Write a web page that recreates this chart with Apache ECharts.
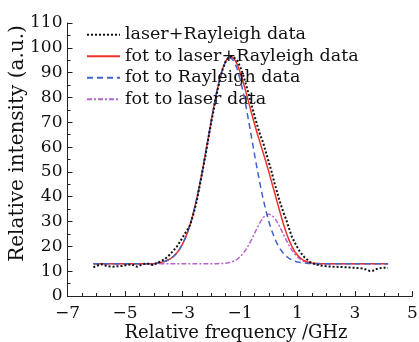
<!DOCTYPE html>
<html><head><meta charset="utf-8">
<script src="https://cdn.jsdelivr.net/npm/echarts@6/dist/echarts.min.js"></script>
<style>html,body{margin:0;padding:0;background:#fff}#c{width:419px;height:342px}</style>
</head><body><div id="c"></div>
<script>
const fitFreq = [-6.1,-5,-4,-3.7,
 -3.6,-3.5,-3.4,-3.3,-3.2,-3.1,-3.0,-2.9,-2.8,-2.7,
 -2.6,-2.5,-2.4,-2.3,-2.2,-2.1,-2.0,-1.9,-1.8,-1.7,
 -1.6,-1.5,-1.4,-1.3,-1.2,-1.1,-1.0,-0.9,-0.8,-0.7,
 -0.6,-0.5,-0.4,-0.3,-0.2,-0.1,0,0.1,0.2,0.3,
 0.4,0.5,0.6,0.7,0.8,0.9,1.0,1.1,1.2,1.3,
 1.4,1.5,1.6,1.8,2.5,4.15];
const rayleighFit = [13,13,13,13.7,
 14.0,14.5,15.2,16.1,17.3,18.9,20.9,23.4,26.5,30.1,
 34.5,39.4,45.0,51.0,57.4,64.0,70.6,76.9,82.7,87.6,
 91.6,94.4,95.8,95.8,94.4,91.6,87.6,82.7,76.9,70.6,
 64.0,57.4,51.0,45.0,39.4,34.5,30.1,26.5,23.4,20.9,
 18.9,17.3,16.1,15.2,14.5,14.0,13.7,13.5,13.3,13.2,
 13.1,13.1,13.0,13,13,13];
const laserFit = [13,13,13,13,
 13,13,13,13,13,13,13,13,13,13,
 13,13,13,13,13,13,13,13,13,13.1,
 13.1,13.2,13.4,13.7,14.1,14.8,15.7,17.0,18.6,20.5,
 22.7,25.1,27.5,29.7,31.5,32.6,33.0,32.6,31.5,29.7,
 27.5,25.1,22.7,20.5,18.6,17.0,15.7,14.8,14.1,13.7,
 13.4,13.2,13.1,13,13,13];
const totalFit = [13,13,13,13.7,
 14.0,14.5,15.2,16.1,17.3,18.9,20.9,23.4,26.5,30.1,
 34.5,39.4,45.0,51.0,57.4,64.0,70.6,76.9,82.7,87.7,
 91.7,94.6,96.2,96.5,95.5,93.4,90.3,86.7,82.5,78.1,
 73.7,69.5,65.5,61.7,57.9,54.1,50.1,45.9,41.8,37.6,
 33.4,29.4,25.8,22.7,20.1,18.0,16.4,15.3,14.4,13.9,
 13.5,13.3,13.2,13,13,13];
const dataFreq = [-6.1,-5.95,-5.81,-5.64,-5.42,-5.25,-5.11,-4.95,-4.77,-4.59,
 -4.42,-4.25,-4.03,-3.9,-3.78,-3.6,-3.43,-3.3,-3.2,-3.09,
 -2.95,-2.85,-2.74,-2.63,-2.5,-2.4,-2.3,-2.2,-2.1,-2.0,
 -1.9,-1.8,-1.7,-1.6,-1.5,-1.4,-1.3,-1.2,-1.1,-1.0,
 -0.9,-0.8,-0.7,-0.6,-0.5,-0.4,-0.3,-0.2,-0.1,0,
 0.1,0.2,0.3,0.4,0.5,0.6,0.7,0.8,0.95,1.09,
 1.25,1.43,1.6,1.89,2.2,2.48,2.8,3.07,3.3,3.52,
 3.63,3.76,3.95,4.15];
const dataIntensity = [11.6,12.3,12.8,12.1,11.8,12.0,12.1,12.5,12.8,11.8,
 12.6,13.2,12.5,13.2,13.8,15.0,16.8,18.5,19.9,21.8,
 24.5,26.3,28.5,32.5,38.5,44.5,50.5,56.8,63.5,70.0,
 76.0,82.0,87.0,91.5,94.5,96.0,96.5,96.0,94.8,92.6,
 89.5,85.5,81.5,77.0,72.8,68.8,65.0,62.0,58.0,54.0,
 50.0,45.5,41.5,37.5,34.0,31.0,27.5,24.0,20.5,17.7,
 15.5,13.7,12.8,12.1,11.8,11.7,11.5,11.3,11.0,10.1,
 10.2,10.9,11.4,11.3];
const seriesNames = ['laser+Rayleigh data','fot to laser+Rayleigh data','fot to Rayleigh data','fot to laser data'];
const xTicks = {min:-7, max:5, interval:2};
const yTicks = {min:0, max:110, interval:10};

const pair = (xs, ys) => xs.map((x, i) => [x, ys[i]]);
const FONT = 'DejaVu Serif';
const chart = echarts.init(document.getElementById('c'), null, {renderer:'canvas'});
const axisCommon = {
  splitLine:{show:false},
  axisLabel:{color:'#111', fontFamily:FONT, fontSize:17},
};
chart.setOption({
  animation:false,
  backgroundColor:'#fff',
  grid:{left:67.5, right:6.5, top:23, bottom:46, containLabel:false, outerBoundsMode:'none'},
  legend:{
    orient:'vertical', left:81, top:20, itemWidth:33, itemHeight:12, itemGap:2,
    itemStyle:{opacity:0},
    textStyle:{color:'#111', fontFamily:FONT, fontSize:17.5, lineHeight:19.5},
    data:seriesNames
  },
  xAxis:Object.assign({}, axisCommon, {
    type:'value', min:xTicks.min, max:xTicks.max, interval:xTicks.interval,
    name:'Relative frequency /GHz', nameLocation:'middle', nameGap:28, nameMoveOverlap:false,
    nameTextStyle:{color:'#111', fontFamily:FONT, fontSize:18, padding:[0,8,0,0]},
    axisLine:{show:true, onZero:false, lineStyle:{color:'#222', width:1}},
    axisTick:{show:true, inside:true, length:5, lineStyle:{color:'#222'}},
    minorTick:{show:true, splitNumber:4, length:3, lineStyle:{color:'#222'}},
    axisLabel:Object.assign({}, axisCommon.axisLabel, {margin:9,
      formatter:v => v < 0 ? '\u2212' + Math.abs(v) : String(v)})
  }),
  yAxis:Object.assign({}, axisCommon, {
    type:'value', min:yTicks.min, max:yTicks.max, interval:yTicks.interval,
    name:'Relative intensity (a.u.)', nameLocation:'middle', nameGap:40, nameMoveOverlap:false,
    nameTextStyle:{color:'#111', fontFamily:FONT, fontSize:20, padding:[0,0,0,32]},
    axisLine:{show:true, onZero:false, lineStyle:{color:'#222', width:1}},
    axisTick:{show:true, inside:true, length:5, lineStyle:{color:'#222'}},
    minorTick:{show:true, splitNumber:2, length:3, lineStyle:{color:'#222'}},
    axisLabel:Object.assign({}, axisCommon.axisLabel, {margin:5})
  }),
  series:[
    {name:seriesNames[0], type:'line', symbol:'none', z:5, data:pair(dataFreq, dataIntensity),
     lineStyle:{color:'#111', width:2, type:[2,2]}, itemStyle:{color:'#111'}},
    {name:seriesNames[1], type:'line', symbol:'none', z:3, data:pair(fitFreq, totalFit),
     lineStyle:{color:'#f0302a', width:1.5, type:'solid'}, itemStyle:{color:'#f0302a'}},
    {name:seriesNames[2], type:'line', symbol:'none', z:4, data:pair(fitFreq, rayleighFit),
     lineStyle:{color:'#3f63c8', width:1.5, type:[6,4]}, itemStyle:{color:'#3f63c8'}},
    {name:seriesNames[3], type:'line', symbol:'none', z:2, data:pair(fitFreq, laserFit),
     lineStyle:{color:'#b466c8', width:1.5, type:[5,2,2,2]}, itemStyle:{color:'#b466c8'}}
  ]
});
</script></body></html>
